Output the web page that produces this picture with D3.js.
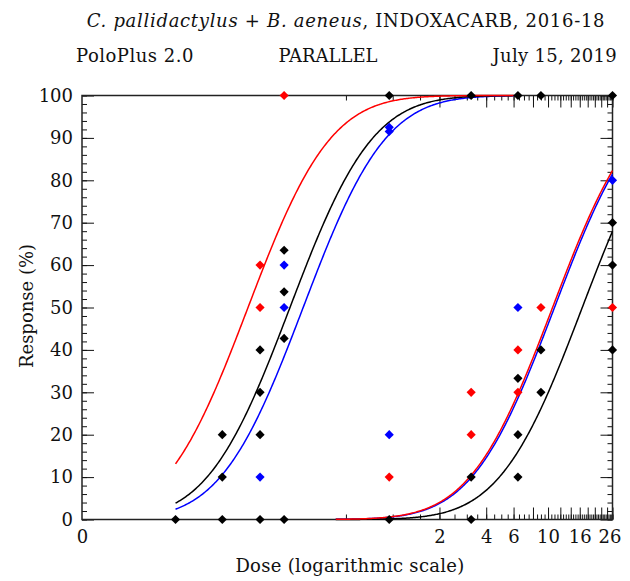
<!DOCTYPE html>
<meta charset="utf-8">
<script src="https://d3js.org/d3.v7.min.js"></script>
<style>
  body { margin: 0; background: #fff; }
  text { font-family: "DejaVu Serif", serif; fill: #111; }
</style>
<div id="chart"></div>
<script>
// probit lines, PARALLEL fit: response = Phi(intercept + slope * log10(dose))
var slope = 2.4;
var curveColors = ["blue", "black", "red", "blue", "black", "red"];
var curveIntercepts = [1.383, 1.587, 2.235, -2.50, -2.929, -2.47];
var curveFrom = [0.04, 0.04, 0.04, 0.43, 0.43, 0.43];
var curveTo = [6, 6, 6, 26, 26, 26];

// observed responses (%)
var blackDose = [0.04, 0.08, 0.08, 0.08, 0.14, 0.14, 0.14, 0.14, 0.2, 0.2, 0.2, 0.2, 0.95, 0.95, 3.2, 3.2, 3.2, 6.4, 6.4, 6.4, 6.4, 9, 9, 9, 26, 26, 26, 26];
var blackResp = [0, 0, 10, 20, 0, 20, 30, 40, 0, 42.7, 53.7, 63.5, 0, 100, 0, 10, 100, 10, 20, 33.3, 100, 30, 40, 100, 40, 60, 70, 100];
var redDose = [0.14, 0.14, 0.2, 0.95, 3.2, 3.2, 6.4, 6.4, 9, 26];
var redResp = [50, 60, 100, 10, 20, 30, 30, 40, 50, 50];
var blueDose = [0.14, 0.2, 0.2, 0.95, 0.95, 0.95, 6.4, 26];
var blueResp = [10, 50, 60, 91.5, 92.5, 20, 50, 80];

var xLabelTicks = [0.01, 2, 4, 6, 10, 16, 26];
var xMinorTicks = d3.range(0.5, 26.01, 0.5);
var xMajorTicks = d3.range(2, 26.01, 2);

var margin = { top: 95.5, right: 17.5, bottom: 61.5, left: 82 },
    width = 630 - margin.left - margin.right,
    height = 581 - margin.top - margin.bottom;

var svg = d3.select("#chart").append("svg")
    .attr("width", 630)
    .attr("height", 581);

// titles
var t1 = svg.append("text")
    .attr("x", 346).attr("y", 27)
    .attr("text-anchor", "middle")
    .style("font-size", "18px")
    .style("letter-spacing", "0.7px");
t1.append("tspan").style("font-style", "italic").text("C. pallidactylus");
t1.append("tspan").text(" + ");
t1.append("tspan").style("font-style", "italic").text("B. aeneus");
t1.append("tspan").text(", INDOXACARB, 2016-18");

svg.append("text").attr("x", 76).attr("y", 62)
    .style("font-size", "18px").style("letter-spacing", "0.5px").text("PoloPlus 2.0");
svg.append("text").attr("x", 328).attr("y", 62).attr("text-anchor", "middle")
    .style("font-size", "18px").text("PARALLEL");
svg.append("text").attr("x", 617).attr("y", 62).attr("text-anchor", "end")
    .style("font-size", "18px").style("letter-spacing", "0.3px").text("July 15, 2019");

var g = svg.append("g")
    .attr("transform", "translate(" + margin.left + "," + margin.top + ")");

var x = d3.scaleLog().domain([0.01, 26]).range([0, width]);
var y = d3.scaleLinear().domain([0, 100]).range([height, 0]);

function tickAxis(axis, values, size) {
    return axis.tickValues(values).tickSize(size).tickFormat("");
}

// inward ticks on all four sides
g.append("g").attr("transform", "translate(0," + height + ")")
    .call(tickAxis(d3.axisBottom(x), xMinorTicks, -5));
g.append("g").attr("transform", "translate(0," + height + ")")
    .call(tickAxis(d3.axisBottom(x), xMajorTicks, -12));
g.append("g").call(tickAxis(d3.axisTop(x), xMinorTicks, -5));
g.append("g").call(tickAxis(d3.axisTop(x), xMajorTicks, -12));
g.append("g").call(tickAxis(d3.axisLeft(y), d3.range(0, 101, 2), -5));
g.append("g").call(tickAxis(d3.axisLeft(y), d3.range(0, 101, 10), -12));
g.append("g").attr("transform", "translate(" + width + ",0)")
    .call(tickAxis(d3.axisRight(y), d3.range(0, 101, 2), -5));
g.append("g").attr("transform", "translate(" + width + ",0)")
    .call(tickAxis(d3.axisRight(y), d3.range(0, 101, 10), -12));
g.selectAll(".domain").remove();
g.selectAll(".tick line").attr("stroke", "#111").attr("stroke-width", 1);

// tick labels
g.append("g").attr("transform", "translate(0," + height + ")")
    .call(d3.axisBottom(x).tickValues(xLabelTicks).tickSize(0).tickPadding(9)
        .tickFormat(function(d) { return d < 0.1 ? "0" : d; }))
    .call(function(a) { a.select(".domain").remove(); })
    .selectAll("text").style("font-size", "18px").attr("fill", "#111").attr("dy", "0.8em")
    .attr("dx", function(d) { return d === 26 ? -3 : 0; });
g.append("g")
    .call(d3.axisLeft(y).tickValues(d3.range(0, 101, 10)).tickSize(0).tickPadding(9))
    .call(function(a) { a.select(".domain").remove(); })
    .selectAll("text").style("font-size", "18px").attr("fill", "#111");

g.append("rect")
    .attr("width", width).attr("height", height)
    .attr("fill", "none").attr("stroke", "#222").attr("stroke-width", 1.5);

// axis titles
svg.append("text")
    .attr("transform", "translate(33,306) rotate(-90)")
    .attr("text-anchor", "middle")
    .style("font-size", "18px")
    .text("Response (%)");
svg.append("text")
    .attr("x", 350).attr("y", 572)
    .attr("text-anchor", "middle")
    .style("font-size", "18px")
    .style("letter-spacing", "0.3px")
    .text("Dose (logarithmic scale)");

// standard normal cdf
function phi(z) {
    var t = 1 / (1 + 0.3275911 * Math.abs(z) / Math.SQRT2);
    var e = 1 - (((((1.061405429 * t - 1.453152027) * t) + 1.421413741) * t - 0.284496736) * t + 0.254829592) * t * Math.exp(-z * z / 2);
    return z >= 0 ? (1 + e) / 2 : (1 - e) / 2;
}

var line = d3.line()
    .x(function(d) { return x(d[0]); })
    .y(function(d) { return y(d[1]); });

curveIntercepts.forEach(function(a, i) {
    var lo = Math.log10(curveFrom[i]), hi = Math.log10(curveTo[i]);
    var pts = d3.range(0, 301).map(function(k) {
        var ld = lo + (hi - lo) * k / 300;
        return [Math.pow(10, ld), 100 * phi(a + slope * ld)];
    });
    g.append("path")
        .attr("d", line(pts))
        .attr("fill", "none")
        .attr("stroke", curveColors[i])
        .attr("stroke-width", 1.5);
});

// diamonds
var diamond = d3.symbol().type(d3.symbolSquare).size(42);
function drawPoints(doses, resp, color) {
    g.append("g").selectAll("path")
        .data(doses.map(function(d, i) { return [d, resp[i]]; }))
        .enter().append("path")
        .attr("d", diamond)
        .attr("transform", function(d) {
            return "translate(" + x(d[0]) + "," + y(d[1]) + ") rotate(45)";
        })
        .attr("fill", color);
}
drawPoints(blackDose, blackResp, "black");
drawPoints(redDose, redResp, "red");
drawPoints(blueDose, blueResp, "blue");
</script>
